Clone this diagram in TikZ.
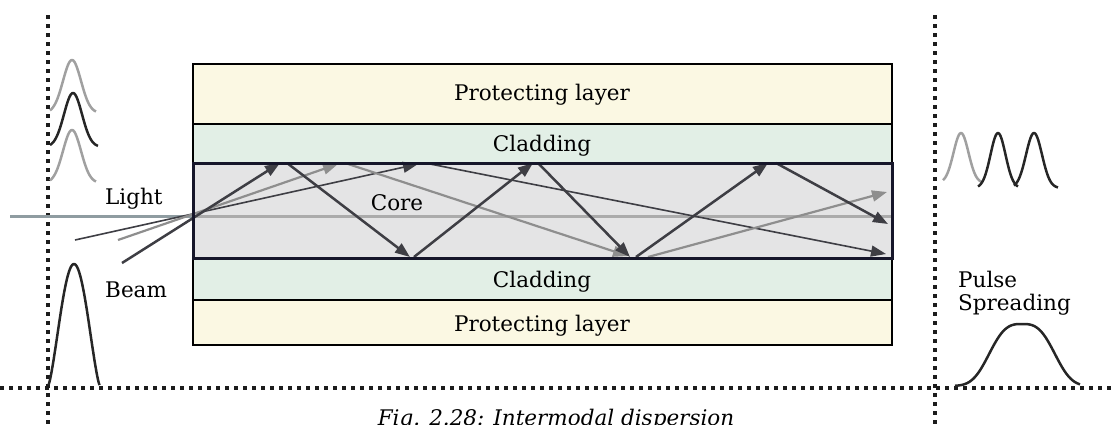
\documentclass[tikz,border=0pt]{standalone}
\usepackage{fontspec}
\setmainfont{DejaVu Serif}
\usetikzlibrary{arrows.meta}

\definecolor{protfill}{HTML}{FBF8E3}
\definecolor{cladfill}{HTML}{E2EFE6}
\definecolor{corefill}{HTML}{E4E4E5}
\definecolor{raydark}{HTML}{3E3E44}
\definecolor{raygray}{HTML}{8E8E8E}
\definecolor{axisin}{HTML}{ABABAB}
\definecolor{axisout}{HTML}{8F9CA1}
\definecolor{dotink}{HTML}{1C1C1C}
\definecolor{pulsegray}{HTML}{A0A0A0}
\definecolor{coreline}{HTML}{16162A}

\begin{document}
\begin{tikzpicture}[x=1pt,y=-1pt,
  txt/.style={font=\fontsize{21.5}{24}\selectfont, inner sep=0pt},
  layerbox/.style={draw=black, line width=2pt},
  dotline/.style={dotink, line width=4pt, dash pattern=on 4pt off 5pt},
  tip/.style={-{Triangle[length=15pt,width=11pt]}},
  rayA/.style={tip, raydark, line width=2.5pt},
  rayB/.style={tip, raygray, line width=2.2pt},
  rayC/.style={tip, raydark, line width=1.6pt},
  pulse/.style={line width=2.5pt, black!85, line join=round},
  pulselight/.style={line width=2.5pt, pulsegray, line join=round}
]
\useasboundingbox (0,0) rectangle (1115,424);

% dotted reference lines
\draw[dotline] (0,388) -- (1115,388);
\draw[dotline] (48,15) -- (48,424);
\draw[dotline] (935,15) -- (935,424);

% fibre layers
\fill[protfill] (193,64) rectangle (892,124);
\fill[cladfill] (193,124) rectangle (892,163);
\fill[corefill] (193,163) rectangle (892,258);
\fill[cladfill] (193,258) rectangle (892,300);
\fill[protfill] (193,300) rectangle (892,345);

% fibre axis
\coordinate (axL) at (10,216);
\coordinate (axM) at (193,216);
\coordinate (axR) at (891,216);
\draw[axisout, line width=3pt] (axL) -- (axM);
\draw[axisin, line width=3pt] (axM) -- (axR);

% ray paths inside the core
\coordinate (a0) at (122,263);
\coordinate (a1) at (280,163);
\coordinate (a1s) at (287,163);
\coordinate (a2) at (410,257);
\coordinate (a2s) at (414,257);
\coordinate (a3) at (533,163);
\coordinate (a3s) at (538,163);
\coordinate (a4) at (630,257);
\coordinate (a4s) at (636,257);
\coordinate (a5) at (768,163);
\coordinate (a5s) at (776,163);
\coordinate (a6) at (888,224);

\coordinate (b0) at (118,240);
\coordinate (b1) at (338,164);
\coordinate (b1s) at (345,163);
\coordinate (b2) at (628,256);
\coordinate (b2s) at (648,257);
\coordinate (b3) at (887,192);

\coordinate (c0) at (75,240);
\coordinate (c1) at (418,164);
\coordinate (c1s) at (425,163);
\coordinate (c2) at (886,254);

\draw[rayC] (c0) -- (c1);
\draw[rayC] (c1s) -- (c2);
\draw[rayB] (b0) -- (b1);
\draw[rayB] (b1s) -- (b2);
\draw[rayB] (b2s) -- (b3);
\draw[rayA] (a0) -- (a1);
\draw[rayA] (a1s) -- (a2);
\draw[rayA] (a2s) -- (a3);
\draw[rayA] (a3s) -- (a4);
\draw[rayA] (a4s) -- (a5);
\draw[rayA] (a5s) -- (a6);

% layer outlines
\draw[layerbox] (193,64) rectangle (892,345);
\draw[black, line width=2pt] (193,124) -- (892,124);
\draw[black, line width=2pt] (193,300) -- (892,300);
\draw[coreline, line width=3pt] (193,163) rectangle (892,258);

% labels
\node[txt, anchor=base] (protTop) at (542,100) {Protecting layer};
\node[txt, anchor=base] (cladTop) at (542,151) {Cladding};
\node[txt, anchor=base] (core) at (397,210) {Core};
\node[txt, anchor=base] (cladBot) at (542,287) {Cladding};
\node[txt, anchor=base] (protBot) at (542,331) {Protecting layer};
\node[txt, anchor=base west] (light) at (105,204) {Light};
\node[txt, anchor=base west] (beam) at (105,297) {Beam};
\node[txt, anchor=base west] (pulseA) at (958,287) {Pulse};
\node[txt, anchor=base west] (pulseB) at (958,310) {Spreading};
\node[txt, anchor=base] (caption) at (556,425) {\itshape Fig. 2.28: Intermodal dispersion};

% input pulses
\draw[pulselight] plot[domain=50:96, samples=50] (\x, {113 - 53*exp(-((\x-72)/9)^2/2)});
\draw[pulselight] plot[domain=50:96, samples=50] (\x, {183 - 53*exp(-((\x-72)/9)^2/2)});
\draw[pulse] plot[domain=50:98, samples=50] (\x, {147 - 54*exp(-((\x-73)/9)^2/2)});
\draw[pulse] plot[domain=48.5:99.5, samples=70] (\x, {386 - 122*((1+cos(180*(\x-74)/26))/2)^0.7});

% output pulses
\draw[pulselight] plot[domain=943:982, samples=50] (\x, {183 - 50*exp(-((\x-961)/7.5)^2/2)});
\draw[pulse] plot[domain=978:1018, samples=50] (\x, {188 - 55*exp(-((\x-998)/7.5)^2/2)});
\draw[pulse] plot[domain=1014:1058, samples=50] (\x, {188 - 55*exp(-((\x-1034)/8)^2/2)});
\draw[pulse] plot[domain=955:1080, samples=90] (\x, {386 - 62*exp(-(abs(\x-1022)/30)^3/2)});
\end{tikzpicture}
\end{document}
